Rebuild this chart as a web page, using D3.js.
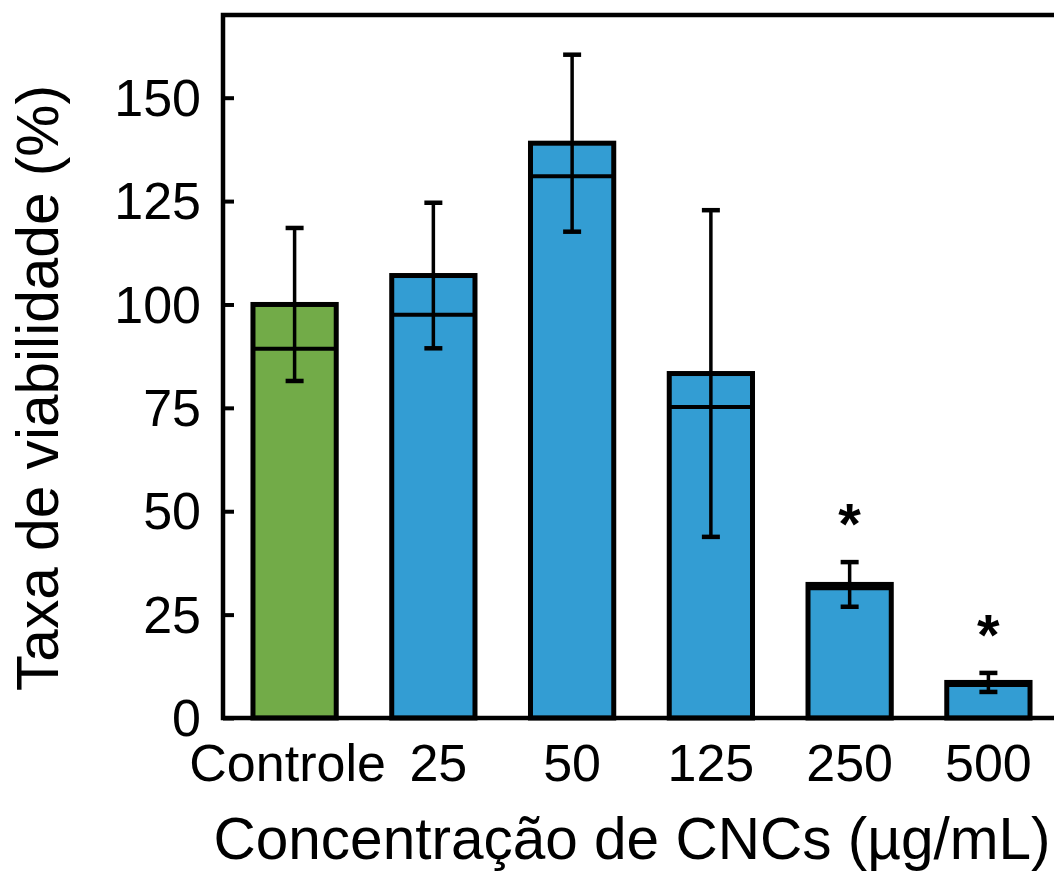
<!DOCTYPE html>
<html>
<head>
<meta charset="utf-8">
<script src="https://cdn.jsdelivr.net/npm/d3@7"></script>
<style>
  html, body { margin: 0; padding: 0; background: #fff; }
  svg { display: block; font-family: "Liberation Sans", Arial, sans-serif; }
</style>
</head>
<body>
<svg id="chart" width="1054" height="874"></svg>
<script>
// Cell viability by CNC concentration
const categories = ["Controle", "25", "50", "125", "250", "500"];
const means      = [100, 107, 139, 83.3, 32.3, 8.6];
const medians    = [89.3, 97.5, 131, 75.2, 31.4, 8.0];
const errors     = [18.5, 17.6, 21.4, 39.5, 5.4, 2.3];
const marks      = ["", "", "", "", "*", "*"];
const barColors  = ["#72ab48", "#339dd3", "#339dd3", "#339dd3", "#339dd3", "#339dd3"];
const yTicks     = [0, 25, 50, 75, 100, 125, 150];

const data = categories.map((c, i) => ({
  cat: c, mean: means[i], median: medians[i], err: errors[i],
  mark: marks[i], color: barColors[i]
}));

const svg = d3.select("#chart");
const plotLeft = 223, plotRight = 1060, plotTop = 15, plotBottom = 718;

const x = d3.scaleBand()
  .domain(categories)
  .range([plotLeft, plotRight])
  .paddingInner(0.4)
  .paddingOuter(0.216);

const y = d3.scaleLinear()
  .domain([0, 170])
  .range([plotBottom, plotTop]);

// y axis: inward ticks, labels on the left
const yAxis = svg.append("g")
  .attr("transform", `translate(${plotLeft},0)`)
  .call(d3.axisLeft(y).tickValues(yTicks).tickSizeInner(-11).tickSizeOuter(0).tickPadding(22));
yAxis.select(".domain").remove();
yAxis.selectAll(".tick line").attr("stroke", "#000").attr("stroke-width", 4);
yAxis.selectAll(".tick text")
  .attr("fill", "#000")
  .style("font-size", "52px")
  .attr("dy", "0.34em");

// x axis labels; the first two are nudged apart
const labelShift = { "Controle": -7, "25": 5 };
const xAxis = svg.append("g")
  .attr("transform", `translate(0,${plotBottom})`)
  .call(d3.axisBottom(x).tickSize(0).tickPadding(26));
xAxis.select(".domain").remove();
xAxis.selectAll(".tick text")
  .attr("fill", "#000")
  .attr("dx", d => labelShift[d] || 0)
  .style("font-size", "52px");

// bars
const bars = svg.append("g");
bars.selectAll("rect")
  .data(data)
  .join("rect")
  .attr("x", d => x(d.cat))
  .attr("y", d => y(d.mean))
  .attr("width", x.bandwidth())
  .attr("height", d => y(0) - y(d.mean))
  .attr("fill", d => d.color)
  .attr("stroke", "#000")
  .attr("stroke-width", 5);

// median line inside each bar
bars.selectAll("line.median")
  .data(data)
  .join("line")
  .attr("class", "median")
  .attr("x1", d => x(d.cat))
  .attr("x2", d => x(d.cat) + x.bandwidth())
  .attr("y1", d => y(d.median))
  .attr("y2", d => y(d.median))
  .attr("stroke", "#000")
  .attr("stroke-width", 4);

// error bars
const capHalf = 9;
const eb = svg.append("g").attr("stroke", "#000").attr("stroke-width", 3.5);
eb.selectAll("line.v")
  .data(data)
  .join("line")
  .attr("class", "v")
  .attr("x1", d => x(d.cat) + x.bandwidth() / 2)
  .attr("x2", d => x(d.cat) + x.bandwidth() / 2)
  .attr("y1", d => y(d.mean + d.err))
  .attr("y2", d => y(d.mean - d.err));
eb.selectAll("line.cap-hi")
  .data(data)
  .join("line")
  .attr("class", "cap-hi")
  .attr("x1", d => x(d.cat) + x.bandwidth() / 2 - capHalf)
  .attr("x2", d => x(d.cat) + x.bandwidth() / 2 + capHalf)
  .attr("y1", d => y(d.mean + d.err))
  .attr("y2", d => y(d.mean + d.err))
  .attr("stroke-width", 4.5);
eb.selectAll("line.cap-lo")
  .data(data)
  .join("line")
  .attr("class", "cap-lo")
  .attr("x1", d => x(d.cat) + x.bandwidth() / 2 - capHalf)
  .attr("x2", d => x(d.cat) + x.bandwidth() / 2 + capHalf)
  .attr("y1", d => y(d.mean - d.err))
  .attr("y2", d => y(d.mean - d.err))
  .attr("stroke-width", 4.5);

// significance marks
svg.append("g").selectAll("text")
  .data(data.filter(d => d.mark))
  .join("text")
  .attr("x", d => x(d.cat) + x.bandwidth() / 2)
  .attr("y", d => y(d.mean + d.err) - 18)
  .attr("text-anchor", "middle")
  .style("font-size", "58px")
  .style("font-weight", "bold")
  .text(d => d.mark);

// frame: left, top and bottom sides
svg.append("path")
  .attr("d", `M${plotRight + 10},${plotTop} L${plotLeft},${plotTop} L${plotLeft},${plotBottom} L${plotRight + 10},${plotBottom}`)
  .attr("fill", "none")
  .attr("stroke", "#000")
  .attr("stroke-width", 4.5)
  .attr("stroke-linecap", "square");

// axis titles
svg.append("text")
  .attr("x", 632)
  .attr("y", 859)
  .attr("text-anchor", "middle")
  .style("font-size", "60px")
  .attr("textLength", 837)
  .attr("lengthAdjust", "spacingAndGlyphs")
  .text("Concentração de CNCs (µg/mL)");

svg.append("text")
  .attr("transform", `translate(58,388) rotate(-90)`)
  .attr("text-anchor", "middle")
  .style("font-size", "59px")
  .attr("textLength", 606)
  .attr("lengthAdjust", "spacingAndGlyphs")
  .text("Taxa de viabilidade (%)");
</script>
</body>
</html>
